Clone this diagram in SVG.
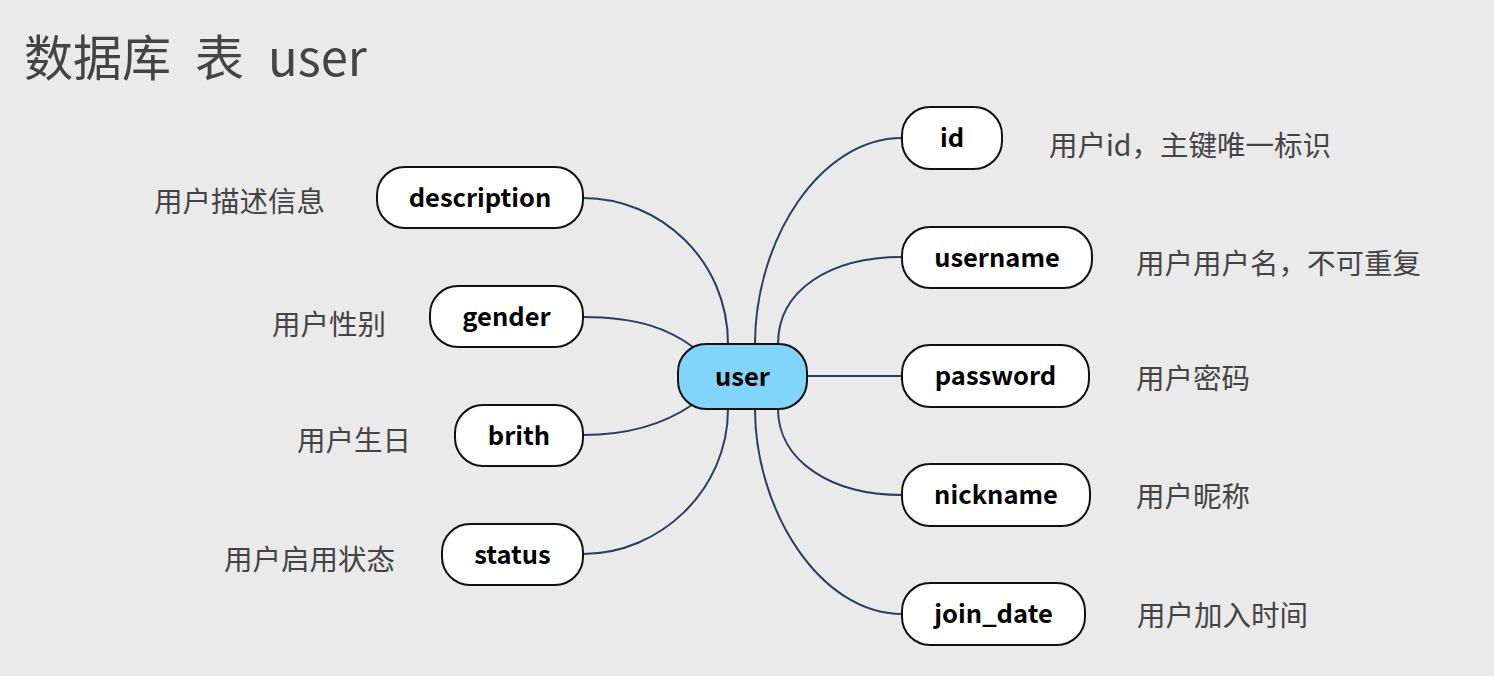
<svg xmlns="http://www.w3.org/2000/svg" width="1494" height="676" viewBox="0 0 1494 676">
<style>
.bg{fill:#eaeaea}
.node rect{fill:#ffffff;stroke:#111111;stroke-width:2}
.node.root rect{fill:#81d4fa}
.node text{font-family:"Noto Sans CJK SC","Noto Sans",sans-serif;font-weight:bold;font-size:25.5px;fill:#000000;text-anchor:middle}
.label{font-family:"Noto Sans CJK SC","Noto Sans",sans-serif;font-size:28.5px;fill:#444444}
.title{font-family:"Noto Sans CJK SC","Noto Sans",sans-serif;font-size:49px;fill:#444444;word-spacing:13px}
#connectors path{fill:none;stroke:#2c3e5e;stroke-width:2}
</style>
<rect class="bg" x="0" y="0" width="1494" height="676"/>
<text class="title" x="24" y="76">数据库 表 user</text>
<g id="connectors">
<path d="M728,344 C728,260 660,198 583,198"/>
<path d="M693,347 C670,330 640,317 583,317"/>
<path d="M692,405 C670,420 635,435 583,435"/>
<path d="M728,409 C728,490 660,554 583,554"/>
<path d="M755,344 C755,240 820,138 902,138"/>
<path d="M778,344 C778,290 830,257 902,257"/>
<path d="M807,376 L902,376"/>
<path d="M778,409 C778,460 830,495 902,495"/>
<path d="M755,409 C755,510 820,614 902,614"/>
</g>
<g id="node-user" class="node root"><rect x="678" y="344" width="129" height="65" rx="28"/><text x="742.5" y="386">user</text></g>
<g id="node-description" class="node"><rect x="377" y="167" width="206" height="61" rx="28"/><text x="480" y="206.5">description</text></g>
<g id="node-gender" class="node"><rect x="430" y="286" width="153" height="61" rx="28"/><text x="506.5" y="325.5">gender</text></g>
<g id="node-brith" class="node"><rect x="455" y="405" width="128" height="61" rx="28"/><text x="519" y="444.5">brith</text></g>
<g id="node-status" class="node"><rect x="442" y="524" width="141" height="61" rx="28"/><text x="512.5" y="563.5">status</text></g>
<g id="node-id" class="node"><rect x="902" y="107" width="100" height="62" rx="28"/><text x="952" y="147">id</text></g>
<g id="node-username" class="node"><rect x="902" y="227" width="190" height="61" rx="28"/><text x="997" y="266.5">username</text></g>
<g id="node-password" class="node"><rect x="902" y="345" width="187" height="62" rx="28"/><text x="995.5" y="385">password</text></g>
<g id="node-nickname" class="node"><rect x="902" y="464" width="188" height="62" rx="28"/><text x="996" y="504">nickname</text></g>
<g id="node-join_date" class="node"><rect x="902" y="583" width="183" height="62" rx="28"/><text x="993.5" y="623">join_date</text></g>
<g id="labels">
<text class="label" x="154" y="212">用户描述信息</text>
<text class="label" x="272" y="335">用户性别</text>
<text class="label" x="297" y="451">用户生日</text>
<text class="label" x="224" y="570">用户启用状态</text>
<text class="label" x="1049" y="156">用户id，主键唯一标识</text>
<text class="label" x="1136" y="274">用户用户名，不可重复</text>
<text class="label" x="1136" y="389">用户密码</text>
<text class="label" x="1136" y="507">用户昵称</text>
<text class="label" x="1137" y="626">用户加入时间</text>
</g>
</svg>
